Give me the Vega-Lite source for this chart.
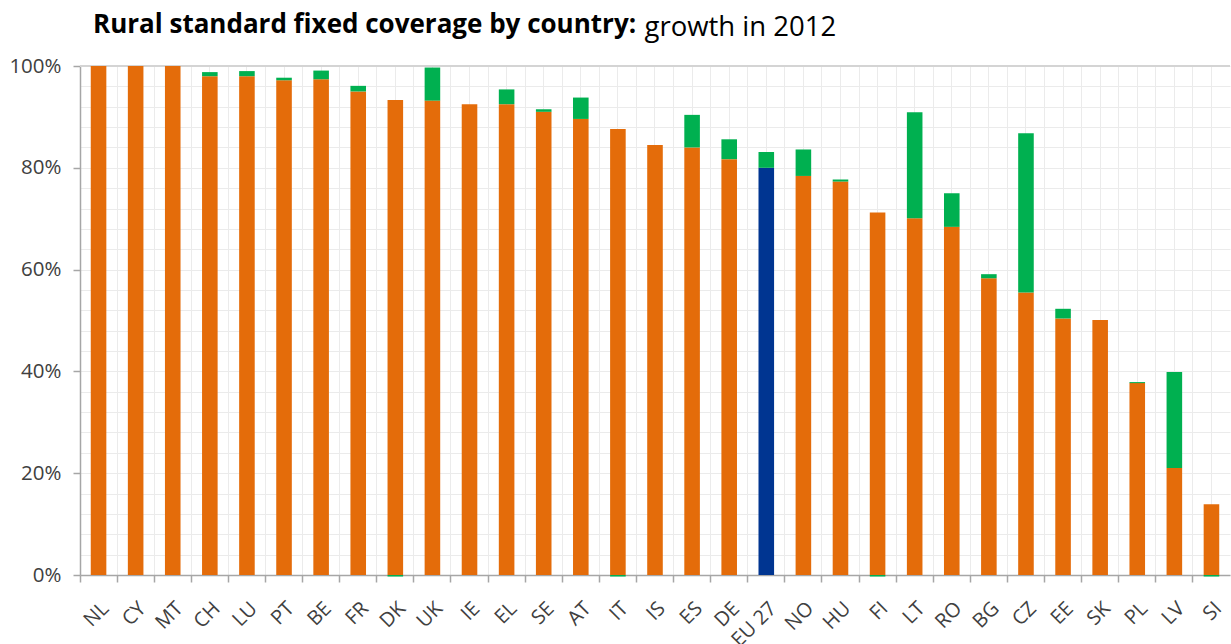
{
  "$schema": "https://vega.github.io/schema/vega-lite/v6.json",
  "width": 1150,
  "height": 509,
  "autosize": {"type": "none"},
  "padding": {"left": 80, "top": 66, "right": 1, "bottom": 69},
  "background": "white",
  "config": {"view": {"stroke": null}, "font": "Lato"},
  "title": {
    "text": "Rural standard fixed coverage by country:",
    "anchor": "start",
    "frame": "group",
    "dx": 13,
    "offset": 0,
    "dy": 46,
    "baseline": "alphabetic",
    "font": "Open Sans",
    "fontSize": 26,
    "fontWeight": "bold",
    "color": "#000000"
  },
  "data": {
    "values": [
      {"country": "NL", "series": "Coverage end 2011", "value": 1.0},
      {"country": "NL", "series": "Growth in 2012", "value": 0},
      {"country": "CY", "series": "Coverage end 2011", "value": 1.0},
      {"country": "CY", "series": "Growth in 2012", "value": 0},
      {"country": "MT", "series": "Coverage end 2011", "value": 1.0},
      {"country": "MT", "series": "Growth in 2012", "value": 0},
      {"country": "CH", "series": "Coverage end 2011", "value": 0.98},
      {"country": "CH", "series": "Growth in 2012", "value": 0.008},
      {"country": "LU", "series": "Coverage end 2011", "value": 0.98},
      {"country": "LU", "series": "Growth in 2012", "value": 0.01},
      {"country": "PT", "series": "Coverage end 2011", "value": 0.972},
      {"country": "PT", "series": "Growth in 2012", "value": 0.005},
      {"country": "BE", "series": "Coverage end 2011", "value": 0.974},
      {"country": "BE", "series": "Growth in 2012", "value": 0.017},
      {"country": "FR", "series": "Coverage end 2011", "value": 0.95},
      {"country": "FR", "series": "Growth in 2012", "value": 0.011},
      {"country": "DK", "series": "Coverage end 2011", "value": 0.933},
      {"country": "DK", "series": "Growth in 2012", "value": -0.003},
      {"country": "UK", "series": "Coverage end 2011", "value": 0.932},
      {"country": "UK", "series": "Growth in 2012", "value": 0.065},
      {"country": "IE", "series": "Coverage end 2011", "value": 0.925},
      {"country": "IE", "series": "Growth in 2012", "value": 0},
      {"country": "EL", "series": "Coverage end 2011", "value": 0.925},
      {"country": "EL", "series": "Growth in 2012", "value": 0.029},
      {"country": "SE", "series": "Coverage end 2011", "value": 0.91},
      {"country": "SE", "series": "Growth in 2012", "value": 0.005},
      {"country": "AT", "series": "Coverage end 2011", "value": 0.896},
      {"country": "AT", "series": "Growth in 2012", "value": 0.042},
      {"country": "IT", "series": "Coverage end 2011", "value": 0.876},
      {"country": "IT", "series": "Growth in 2012", "value": -0.003},
      {"country": "IS", "series": "Coverage end 2011", "value": 0.845},
      {"country": "IS", "series": "Growth in 2012", "value": 0},
      {"country": "ES", "series": "Coverage end 2011", "value": 0.84},
      {"country": "ES", "series": "Growth in 2012", "value": 0.064},
      {"country": "DE", "series": "Coverage end 2011", "value": 0.817},
      {"country": "DE", "series": "Growth in 2012", "value": 0.039},
      {"country": "EU 27", "series": "Coverage end 2011", "value": 0.8},
      {"country": "EU 27", "series": "Growth in 2012", "value": 0.031},
      {"country": "NO", "series": "Coverage end 2011", "value": 0.784},
      {"country": "NO", "series": "Growth in 2012", "value": 0.052},
      {"country": "HU", "series": "Coverage end 2011", "value": 0.773},
      {"country": "HU", "series": "Growth in 2012", "value": 0.004},
      {"country": "FI", "series": "Coverage end 2011", "value": 0.712},
      {"country": "FI", "series": "Growth in 2012", "value": -0.003},
      {"country": "LT", "series": "Coverage end 2011", "value": 0.701},
      {"country": "LT", "series": "Growth in 2012", "value": 0.208},
      {"country": "RO", "series": "Coverage end 2011", "value": 0.684},
      {"country": "RO", "series": "Growth in 2012", "value": 0.066},
      {"country": "BG", "series": "Coverage end 2011", "value": 0.583},
      {"country": "BG", "series": "Growth in 2012", "value": 0.008},
      {"country": "CZ", "series": "Coverage end 2011", "value": 0.555},
      {"country": "CZ", "series": "Growth in 2012", "value": 0.313},
      {"country": "EE", "series": "Coverage end 2011", "value": 0.504},
      {"country": "EE", "series": "Growth in 2012", "value": 0.019},
      {"country": "SK", "series": "Coverage end 2011", "value": 0.501},
      {"country": "SK", "series": "Growth in 2012", "value": 0},
      {"country": "PL", "series": "Coverage end 2011", "value": 0.377},
      {"country": "PL", "series": "Growth in 2012", "value": 0.002},
      {"country": "LV", "series": "Coverage end 2011", "value": 0.21},
      {"country": "LV", "series": "Growth in 2012", "value": 0.189},
      {"country": "SI", "series": "Coverage end 2011", "value": 0.139},
      {"country": "SI", "series": "Growth in 2012", "value": -0.003}
    ]
  },
  "resolve": {"axis": {"x": "independent", "y": "independent"}},
  "layer": [
    {
      "mark": {"type": "bar", "opacity": 0},
      "encoding": {
        "x": {
          "field": "country", "type": "nominal", "sort": null,
          "scale": {"paddingInner": 0, "paddingOuter": 0},
          "axis": {
            "orient": "bottom", "bandPosition": 0, "grid": true, "gridColor": "#ebebeb", "gridWidth": 1,
            "labels": false, "ticks": true, "tickSize": 7, "tickColor": "#a6a6a6", "tickWidth": 1.5,
            "domain": false, "title": null
          }
        },
        "y": {
          "field": "value", "type": "quantitative",
          "scale": {"domain": [0, 1], "nice": false, "zero": true},
          "axis": {
            "orient": "left", "values": [0, 0.04, 0.08, 0.12, 0.16, 0.2, 0.24, 0.28, 0.32, 0.36, 0.4, 0.44, 0.48, 0.52, 0.56, 0.6, 0.64, 0.68, 0.72, 0.76, 0.8, 0.84, 0.88, 0.92, 0.96, 1],
            "grid": true, "gridColor": "#ebebeb", "gridWidth": 1,
            "labels": false, "ticks": false, "domain": false, "title": null
          }
        }
      }
    },
    {
      "mark": {"type": "bar", "opacity": 0},
      "encoding": {
        "x": {
          "field": "country", "type": "nominal", "sort": null,
          "axis": {
            "orient": "bottom", "bandPosition": 0.5, "grid": true, "gridColor": "#ebebeb", "gridWidth": 1,
            "labels": false, "ticks": false, "domain": false, "title": null
          }
        },
        "y": {"field": "value", "type": "quantitative", "axis": null}
      }
    },
    {
      "data": {"values": [{}]},
      "mark": {"type": "rule", "color": "#d4d4d4", "strokeWidth": 2},
      "encoding": {"y": {"datum": 1, "type": "quantitative", "axis": null}}
    },
    {
      "mark": {"type": "bar", "width": {"band": 0.42}},
      "encoding": {
        "x": {
          "field": "country", "type": "nominal", "sort": null,
          "axis": {
            "orient": "bottom", "grid": false, "ticks": false, "domain": true, "domainColor": "#a6a6a6", "domainWidth": 1.5,
            "labelAngle": -45, "labelAlign": "right", "labelBaseline": "top", "labelPadding": 23,
            "labelFont": "Open Sans", "labelFontSize": 20, "labelColor": "#404040", "title": null
          }
        },
        "y": {
          "field": "value", "type": "quantitative", "stack": "zero",
          "axis": {
            "orient": "left", "values": [0, 0.2, 0.4, 0.6, 0.8, 1], "format": ".0%",
            "grid": false, "ticks": true, "tickSize": 7, "tickColor": "#a6a6a6", "tickWidth": 1.5,
            "domain": true, "domainColor": "#a6a6a6", "domainWidth": 1.5,
            "labelFont": "Open Sans", "labelFontSize": 20.5, "labelColor": "#404040", "labelPadding": 12,
            "title": "growth in 2012", "titleAngle": 0, "titleAlign": "left", "titleBaseline": "alphabetic",
            "titleX": 564, "titleY": -31, "titleFont": "Open Sans", "titleFontSize": 27.5, "titleFontWeight": "normal", "titleColor": "#000000"
          }
        },
        "color": {
          "condition": {"test": "datum.country === 'EU 27' && datum.series === 'Coverage end 2011'", "value": "#003591"},
          "field": "series", "type": "nominal",
          "scale": {"domain": ["Coverage end 2011", "Growth in 2012"], "range": ["#E46C0A", "#00B050"]},
          "legend": null
        },
        "order": {"field": "series", "sort": "ascending"}
      }
    }
  ]
}
